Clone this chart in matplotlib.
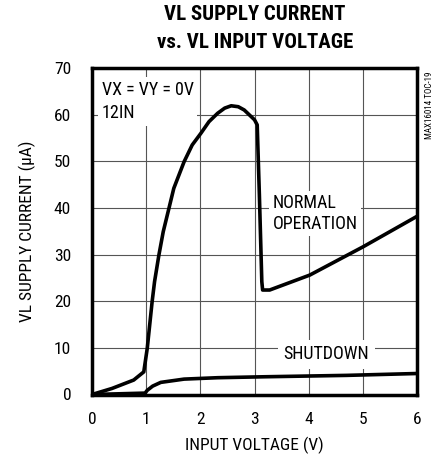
import matplotlib
matplotlib.use("Agg")
import matplotlib.pyplot as plt

plt.rcParams['font.family'] = ['Roboto Condensed', 'DejaVu Sans']

normal_x = [0.0, 0.37, 0.77, 0.956, 1.02, 1.11, 1.155, 1.235, 1.315, 1.42, 1.51, 1.70, 1.85, 2.01, 2.16, 2.32, 2.45, 2.57, 2.70, 2.81, 3.0, 3.05, 3.09, 3.135, 3.15, 3.28, 4.02, 5.01, 6.0]
normal_y = [0.0, 1.3, 3.1, 4.85, 9.9, 19.9, 24.2, 29.9, 34.9, 39.9, 44.2, 49.9, 53.5, 56.0, 58.5, 60.3, 61.4, 61.9, 61.7, 61.0, 58.9, 57.8, 42.8, 24.2, 22.4, 22.4, 25.6, 31.7, 38.2]
shut_x = [0.0, 0.5, 0.98, 1.02, 1.12, 1.27, 1.70, 2.32, 3.18, 4.7, 6.0]
shut_y = [0.0, 0.15, 0.3, 0.9, 1.8, 2.6, 3.3, 3.6, 3.8, 4.1, 4.5]

xticks = [0, 1, 2, 3, 4, 5, 6]
yticks = [0, 10, 20, 30, 40, 50, 60, 70]

W, H = 440, 457
fig = plt.figure(figsize=(4.4, 4.57), dpi=100)
ax = fig.add_axes([92/W, (H - 394.5)/H, 325/W, 326.5/H])
ax.set_xlim(0, 6)
ax.set_ylim(0, 70)
ax.set_xticks(xticks)
ax.set_yticks(yticks)
ax.grid(True, color='#555555', linewidth=0.8)
ax.set_axisbelow(True)
ax.tick_params(axis='both', length=0, labelsize=12.5)
ax.tick_params(axis='x', pad=12.5)
ax.tick_params(axis='y', pad=15)
for s in ax.spines.values():
    s.set_linewidth(2.5)

ax.plot(normal_x, normal_y, color='black', linewidth=2.6, solid_joinstyle='round', zorder=5)
ax.plot(shut_x, shut_y, color='black', linewidth=2.6, solid_joinstyle='round', zorder=5)

bbox = dict(facecolor='white', edgecolor='none', pad=2.5)
ax.text(0.18, 67.3, 'VX = VY = 0V\n12IN', fontsize=13, va='top', ha='left', bbox=bbox, linespacing=1.4, zorder=3)
ax.text(3.33, 38.8, 'NORMAL\nOPERATION', fontsize=13, va='center', ha='left', bbox=bbox, linespacing=1.15, zorder=3)
ax.text(3.54, 8.6, 'SHUTDOWN', fontsize=13, va='center', ha='left', bbox=dict(facecolor='white', edgecolor='none', pad=4), zorder=3)

ax.set_xlabel('INPUT VOLTAGE (V)', fontsize=12.5)
ax.set_ylabel('VL SUPPLY CURRENT (\u03bcA)', fontsize=12.5)
ax.xaxis.set_label_coords(0.5, (394.5 - 437) / 326.5)
ax.yaxis.set_label_coords((36 - 92) / 325, 0.5)
fig.text(255/W, 1 - 15/H, 'VL SUPPLY CURRENT', ha='center', va='center', fontsize=15, fontweight='bold')
fig.text(255/W, 1 - 42/H, 'vs. VL INPUT VOLTAGE', ha='center', va='center', fontsize=15, fontweight='bold')
fig.text(429/W, 1 - 105/H, 'MAX16014 TOC-19', rotation=90, ha='center', va='center', fontsize=6.5)

fig.savefig('out.png', dpi=100)
